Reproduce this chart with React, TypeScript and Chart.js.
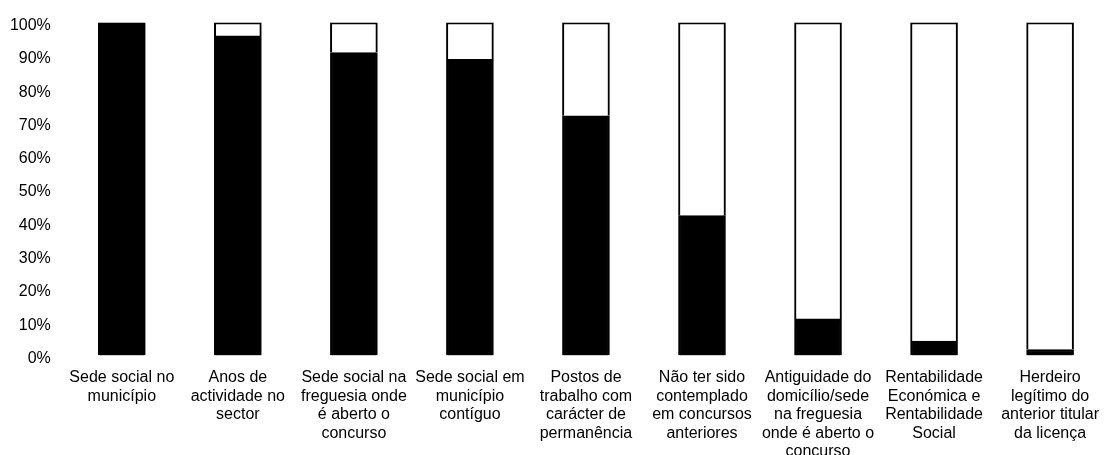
import React, { useEffect, useRef } from "react";
import { Chart, registerables } from "chart.js";

Chart.register(...registerables);

const categories: string[][] = [
  ["Sede social no", "município"],
  ["Anos de", "actividade no", "sector"],
  ["Sede social na", "freguesia onde", "é aberto o", "concurso"],
  ["Sede social em", "município", "contíguo"],
  ["Postos de", "trabalho com", "carácter de", "permanência"],
  ["Não ter sido", "contemplado", "em concursos", "anteriores"],
  ["Antiguidade do", "domicílio/sede", "na freguesia", "onde é aberto o", "concurso"],
  ["Rentabilidade", "Económica e", "Rentabilidade", "Social"],
  ["Herdeiro", "legítimo do", "anterior titular", "da licença"],
];

const yesValues: number[] = [100, 96, 91, 89, 72, 42, 11, 4.3, 1.8];
const noValues: number[] = [0, 4, 9, 11, 28, 58, 89, 95.7, 98.2];

const yTicks: number[] = [0, 10, 20, 30, 40, 50, 60, 70, 80, 90, 100];

export default function App() {
  const ref = useRef<HTMLCanvasElement | null>(null);

  useEffect(() => {
    if (!ref.current) return;
    const font = { family: "'Liberation Sans', Arial, sans-serif", size: 16, lineHeight: 1.16 };
    const chart = new Chart(ref.current, {
      type: "bar",
      data: {
        labels: categories,
        datasets: [
          {
            label: "Sim",
            data: yesValues,
            backgroundColor: "#000000",
            borderColor: "#000000",
            borderWidth: 2,
            barThickness: 47,
          },
          {
            label: "Não",
            data: noValues,
            backgroundColor: "#ffffff",
            borderColor: "#000000",
            borderWidth: 2,
            barThickness: 47,
          },
        ],
      },
      options: {
        animation: false,
        responsive: false,
        maintainAspectRatio: false,
        layout: { padding: { top: 22, left: 0, right: 0, bottom: 0 } },
        plugins: {
          legend: { display: false },
          tooltip: { enabled: false },
        },
        scales: {
          x: {
            stacked: true,
            grid: { display: false, drawTicks: false },
            border: { display: false },
            ticks: {
              color: "#000",
              font,
              padding: 13,
              maxRotation: 0,
              minRotation: 0,
              autoSkip: false,
            },
            afterFit: (scale: any) => {
              scale.height = 99.5;
            },
          },
          y: {
            stacked: true,
            min: 0,
            max: 100,
            afterBuildTicks: (scale: any) => {
              scale.ticks = yTicks.map((v) => ({ value: v }));
            },
            grid: { display: false, drawTicks: false },
            border: { display: false },
            ticks: {
              color: "#000",
              font: { family: "'Liberation Sans', Arial, sans-serif", size: 16 },
              padding: 13,
              labelOffset: 3,
              callback: (v: any) => `${v}%`,
            },
            afterFit: (scale: any) => {
              scale.width = 63.8;
            },
          },
        },
      },
    });
    return () => chart.destroy();
  }, []);

  return (
    <div style={{ position: "fixed", left: 0, top: 0, width: 1112, height: 455, background: "#fff" }}>
      <canvas ref={ref} width={1112} height={455} style={{ display: "block", width: 1112, height: 455 }} />
    </div>
  );
}
